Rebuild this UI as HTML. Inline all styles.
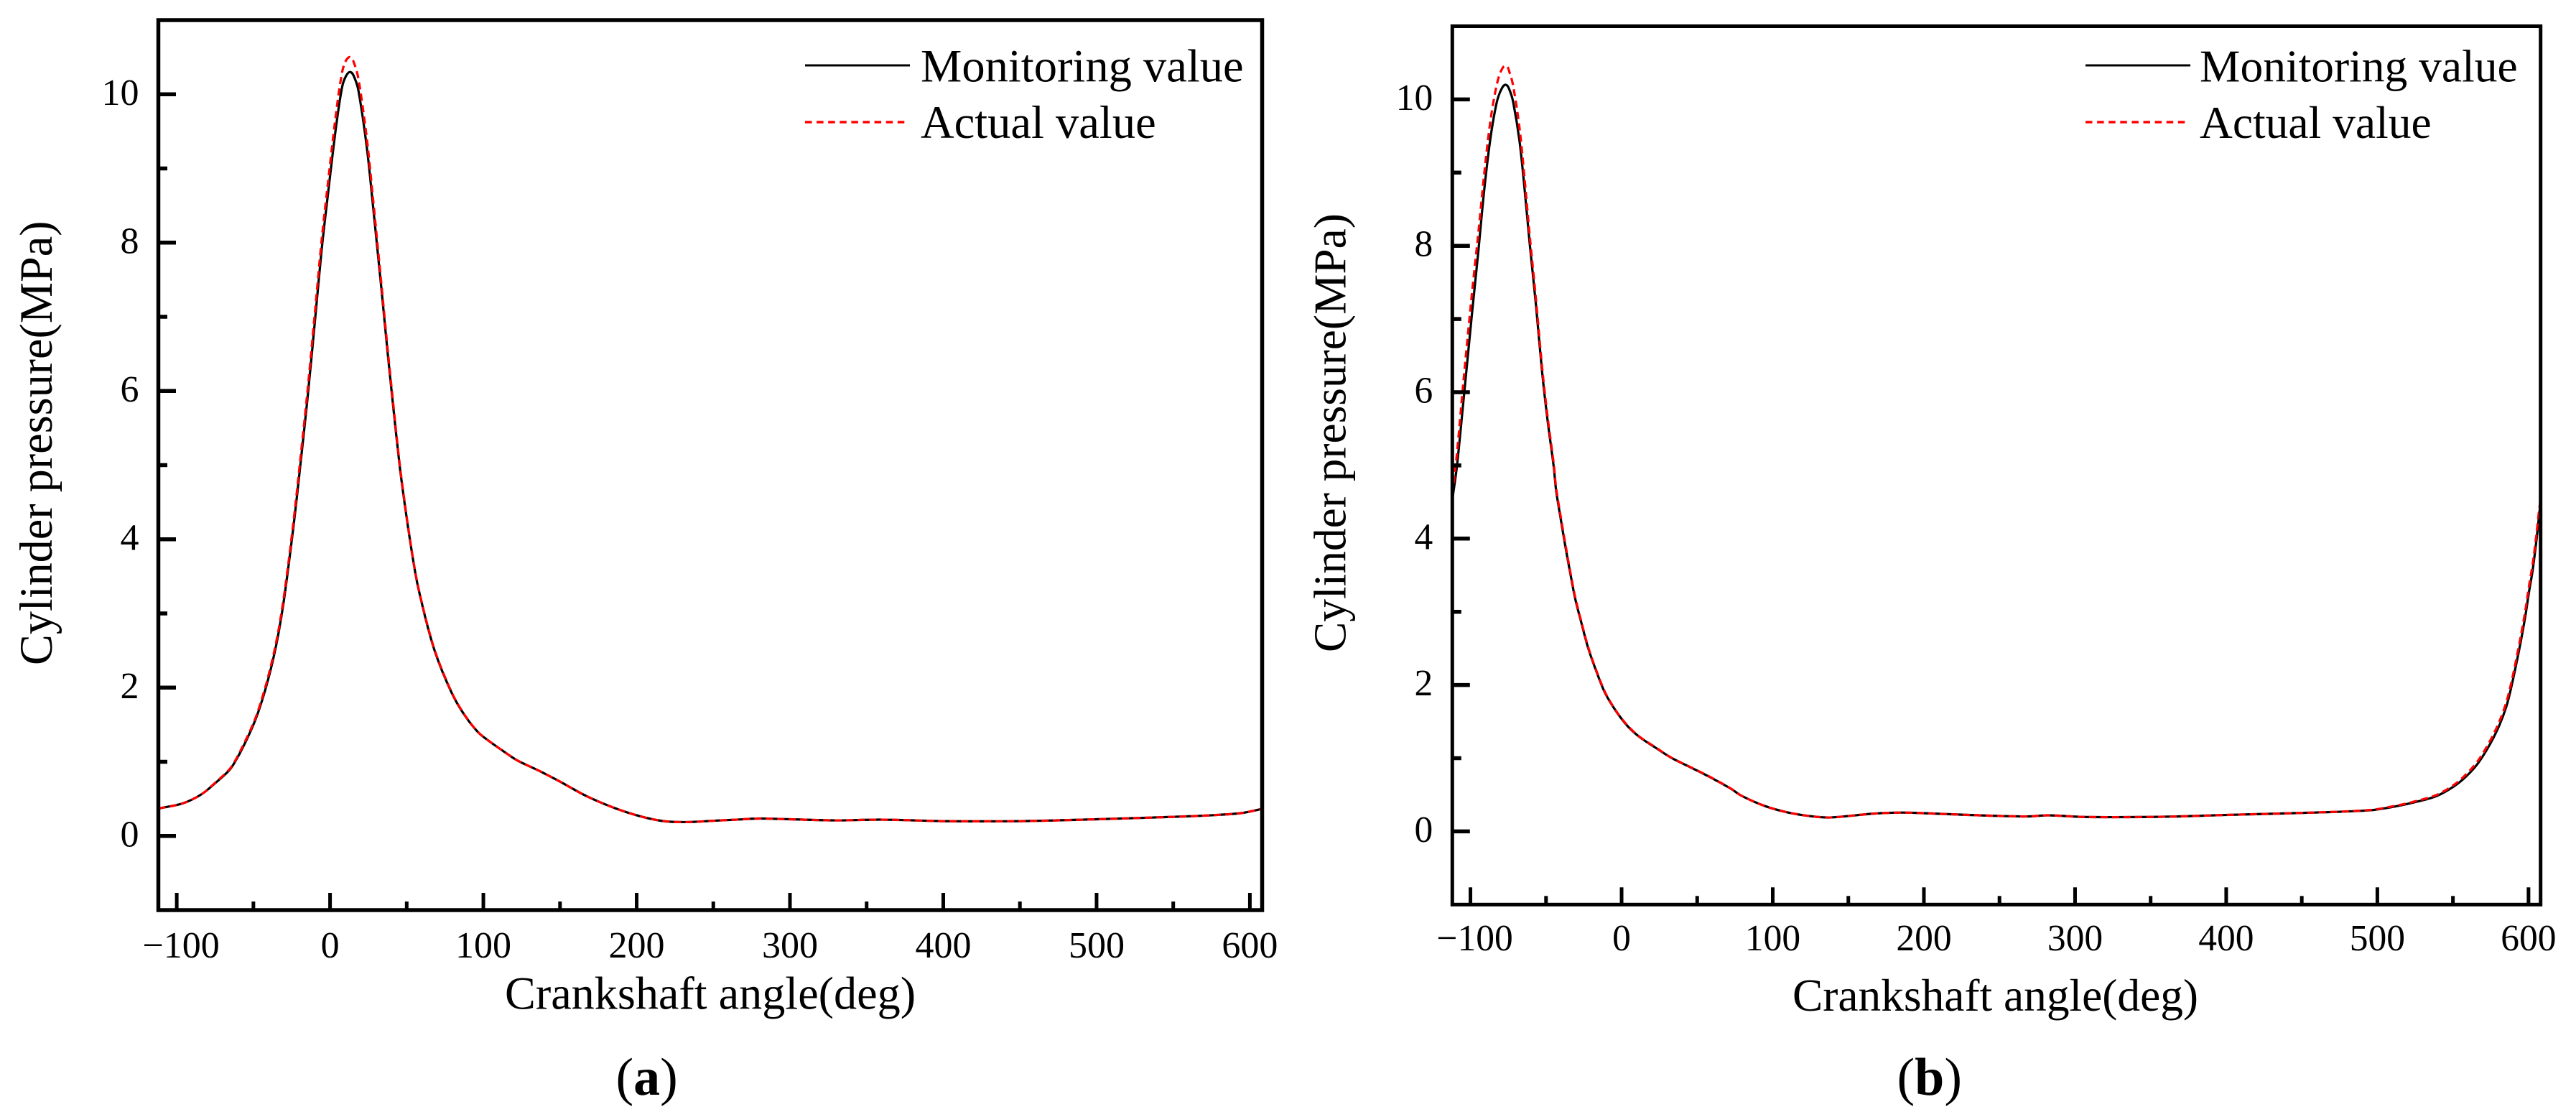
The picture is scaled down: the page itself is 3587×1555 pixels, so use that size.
<!DOCTYPE html>
<html lang="en">
<head>
<meta charset="utf-8">
<title>Cylinder pressure charts</title>
<style>
html,body{margin:0;padding:0;background:#fff;}
svg{display:block;}
text{font-family:"Liberation Serif",serif;fill:#000;}
</style>
</head>
<body>
<svg id="chart" xmlns="http://www.w3.org/2000/svg" width="3587" height="1555" viewBox="0 0 3587 1555"></svg>
<script>
const xMajorTicks = [-100, 0, 100, 200, 300, 400, 500, 600];
const xMinorTicks = [-50, 50, 150, 250, 350, 450, 550];
const xTickLabels = ["\u2212100", "0", "100", "200", "300", "400", "500", "600"];
const yMajorTicks = [0, 2, 4, 6, 8, 10];
const yMinorTicks = [1, 3, 5, 7, 9];
const yTickLabels = ["0", "2", "4", "6", "8", "10"];
const xDomain = [-112, 608];
const yDomain = [-1, 11];

const anglesA = [-112,-96,-84,-74.8,-66,-62.3,-56,-49,-44.3,-40.4,-36.5,-33.4,-30.3,-27.1,-24,-21.7,-19.8,-14.9,-9.6,-5.5,-1.5,3.9,7.9,10.5,13.3,16,18.6,24,28,30.7,33.4,37.4,41.4,45.5,48.6,52.5,56.4,60.3,64.2,68.1,73.6,81.4,89.2,97,104.8,112.6,122,135.2,149,167,184.8,202.7,217.6,232.6,250,265,280,300,330,360,400,450,500,560,580,595,608];
const monitoringA = [0.37,0.44,0.56,0.714,0.88,0.988,1.23,1.55,1.83,2.11,2.44,2.76,3.15,3.64,4.15,4.56,4.92,5.86,7.0,7.9,8.63,9.56,10.1,10.25,10.3,10.22,10.04,9.28,8.5,7.95,7.4,6.55,5.75,4.975,4.49,3.94,3.458,3.1,2.78,2.506,2.2,1.845,1.586,1.39,1.263,1.15,1.02,0.89,0.744,0.54,0.383,0.263,0.2,0.187,0.205,0.22,0.235,0.225,0.21,0.22,0.2,0.2,0.225,0.265,0.285,0.31,0.365];
const actualA = [0.37,0.44,0.56,0.72,0.89,1.0,1.25,1.57,1.86,2.145,2.48,2.8,3.2,3.69,4.21,4.63,5.0,5.96,7.12,8.03,8.78,9.74,10.3,10.46,10.5,10.4,10.2,9.4,8.6,8.03,7.46,6.6,5.79,5.0,4.51,3.95,3.468,3.11,2.79,2.515,2.21,1.85,1.59,1.39,1.263,1.15,1.02,0.89,0.744,0.54,0.383,0.263,0.2,0.187,0.205,0.22,0.235,0.225,0.21,0.22,0.2,0.2,0.225,0.265,0.285,0.31,0.365];

const anglesB = [-112,-109,-104.4,-99,-94.9,-90.8,-86.7,-82.6,-79.5,-76.6,-74,-71.7,-67.6,-64.3,-60.8,-56.7,-52.6,-49,-44.9,-43.3,-40.2,-37,-33.8,-30.7,-26.7,-22,-16.4,-10.9,-3.8,4.2,12.1,21.6,32.7,45.4,58,72.3,79.4,94.6,109.7,124.9,137,149,167,185.4,206.8,228,255,270,282,305,335,367.7,399,451,495,510.9,526.8,539.4,550.6,558.5,566.4,574.4,580.7,585.4,588.6,591.7,594.9,598,600.4,602.8,605.2,606.4,608];
const monitoringB = [4.53,4.98,5.93,7.07,7.9,8.78,9.48,9.96,10.14,10.2,10.12,9.96,9.44,8.8,8.03,7.2,6.28,5.62,4.98,4.655,4.26,3.87,3.51,3.18,2.856,2.497,2.17,1.89,1.646,1.433,1.286,1.155,1.008,0.877,0.746,0.583,0.486,0.348,0.26,0.208,0.19,0.208,0.243,0.257,0.243,0.226,0.208,0.205,0.22,0.198,0.195,0.204,0.224,0.253,0.288,0.337,0.409,0.485,0.615,0.746,0.926,1.187,1.449,1.71,1.97,2.267,2.595,2.954,3.28,3.576,3.97,4.2,4.5];
const actualB = [4.6,5.15,6.2,7.35,8.15,9.0,9.72,10.2,10.4,10.46,10.36,10.18,9.62,8.94,8.14,7.28,6.34,5.67,5.02,4.69,4.29,3.9,3.53,3.2,2.87,2.51,2.18,1.9,1.65,1.44,1.29,1.16,1.01,0.88,0.75,0.585,0.486,0.348,0.26,0.208,0.19,0.208,0.243,0.257,0.243,0.226,0.208,0.205,0.22,0.198,0.195,0.204,0.224,0.253,0.292,0.345,0.42,0.5,0.635,0.775,0.96,1.23,1.5,1.77,2.03,2.33,2.67,3.03,3.36,3.66,4.05,4.28,4.55];

const NS = "http://www.w3.org/2000/svg";
const root = document.getElementById("chart");

function make(tag, parent) {
  const el = document.createElementNS(NS, tag);
  parent.appendChild(el);
  return el;
}

function smoothPath(xs, ys, sx, sy) {
  const pts = xs.map(function (x, i) { return [sx(x), sy(ys[i])]; });
  const tangent = function (i) {
    const a = pts[Math.max(i - 1, 0)];
    const b = pts[Math.min(i + 1, pts.length - 1)];
    const dx = b[0] - a[0];
    const dy = b[1] - a[1];
    const len = Math.hypot(dx, dy) || 1;
    return [dx / len, dy / len];
  };
  let d = "M" + pts[0][0].toFixed(2) + " " + pts[0][1].toFixed(2);
  for (let i = 0; i < pts.length - 1; i++) {
    const p1 = pts[i];
    const p2 = pts[i + 1];
    const h = Math.hypot(p2[0] - p1[0], p2[1] - p1[1]) * 0.33;
    const t1 = tangent(i);
    const t2 = tangent(i + 1);
    d += "C" + (p1[0] + t1[0] * h).toFixed(2) + " " + (p1[1] + t1[1] * h).toFixed(2) + " " + (p2[0] - t2[0] * h).toFixed(2) + " " + (p2[1] - t2[1] * h).toFixed(2) + " " + p2[0].toFixed(2) + " " + p2[1].toFixed(2);
  }
  return d;
}

function drawPanel(cfg) {
  const g = make("g", root);
  
  

  const sx = function (v) { return cfg.left + (v - xDomain[0]) / (xDomain[1] - xDomain[0]) * (cfg.right - cfg.left); };
  const sy = function (v) { return cfg.bottom - (v - yDomain[0]) / (yDomain[1] - yDomain[0]) * (cfg.bottom - cfg.top); };

  const black = make("path", g);
  
  
  black.setAttribute("d", smoothPath(cfg.angles, cfg.monitoring, sx, sy));
  black.setAttribute("fill", "none");
  black.setAttribute("stroke", "#000");
  black.setAttribute("stroke-width", "3.2");

  const red = make("path", g);
  
  
  red.setAttribute("d", smoothPath(cfg.angles, cfg.actual, sx, sy));
  red.setAttribute("fill", "none");
  red.setAttribute("stroke", "#ff0000");
  red.setAttribute("stroke-width", "3.2");
  red.setAttribute("stroke-dasharray", "10 6");

  const frame = make("rect", g);
  
  
  frame.setAttribute("x", cfg.left);
  frame.setAttribute("y", cfg.top);
  frame.setAttribute("width", cfg.right - cfg.left);
  frame.setAttribute("height", cfg.bottom - cfg.top);
  frame.setAttribute("fill", "none");
  frame.setAttribute("stroke", "#000");
  frame.setAttribute("stroke-width", cfg.frameWidth);

  xMajorTicks.forEach(function (v, i) {
    const t = make("line", g);
    
    
    t.setAttribute("x1", sx(v));
    t.setAttribute("x2", sx(v));
    t.setAttribute("y1", cfg.bottom);
    t.setAttribute("y2", cfg.bottom - 24);
    t.setAttribute("stroke", "#000");
    t.setAttribute("stroke-width", "5");
    const label = make("text", g);
    
    
    label.setAttribute("x", sx(v) + (v < 0 ? 6 : 0));
    label.setAttribute("y", cfg.xLabelY);
    label.setAttribute("text-anchor", "middle");
    label.setAttribute("font-size", cfg.tickFont);
    label.textContent = xTickLabels[i];
  });
  xMinorTicks.forEach(function (v) {
    const t = make("line", g);
    
    
    t.setAttribute("x1", sx(v));
    t.setAttribute("x2", sx(v));
    t.setAttribute("y1", cfg.bottom);
    t.setAttribute("y2", cfg.bottom - 12);
    t.setAttribute("stroke", "#000");
    t.setAttribute("stroke-width", "5");
  });
  yMajorTicks.forEach(function (v, i) {
    const t = make("line", g);
    
    
    t.setAttribute("x1", cfg.left);
    t.setAttribute("x2", cfg.left + 24.5);
    t.setAttribute("y1", sy(v));
    t.setAttribute("y2", sy(v));
    t.setAttribute("stroke", "#000");
    t.setAttribute("stroke-width", "5.5");
    const label = make("text", g);
    
    
    label.setAttribute("x", cfg.left - 27);
    label.setAttribute("y", sy(v) + 14.5);
    label.setAttribute("text-anchor", "end");
    label.setAttribute("font-size", cfg.tickFont);
    label.textContent = yTickLabels[i];
  });
  yMinorTicks.forEach(function (v) {
    const t = make("line", g);
    
    
    t.setAttribute("x1", cfg.left);
    t.setAttribute("x2", cfg.left + 12.5);
    t.setAttribute("y1", sy(v));
    t.setAttribute("y2", sy(v));
    t.setAttribute("stroke", "#000");
    t.setAttribute("stroke-width", "5.5");
  });

  const xTitle = make("text", g);
  
  
  xTitle.setAttribute("x", cfg.xTitleX);
  xTitle.setAttribute("y", cfg.xTitleY);
  xTitle.setAttribute("font-size", cfg.titleFont);
  xTitle.textContent = "Crankshaft angle(deg)";

  const yTitle = make("text", g);
  
  
  yTitle.setAttribute("x", cfg.yTitleX);
  yTitle.setAttribute("y", cfg.yTitleY);
  yTitle.setAttribute("font-size", cfg.titleFont);
  yTitle.setAttribute("transform", "rotate(-90 " + cfg.yTitleX + " " + cfg.yTitleY + ")");
  yTitle.textContent = "Cylinder pressure(MPa)";

  const swatchBlack = make("line", g);
  
  
  swatchBlack.setAttribute("x1", cfg.swatchX);
  swatchBlack.setAttribute("x2", cfg.swatchX + 146);
  swatchBlack.setAttribute("y1", 91);
  swatchBlack.setAttribute("y2", 91);
  swatchBlack.setAttribute("stroke", "#000");
  swatchBlack.setAttribute("stroke-width", "3");

  const swatchRed = make("line", g);
  
  
  swatchRed.setAttribute("x1", cfg.swatchX);
  swatchRed.setAttribute("x2", cfg.swatchX + 141);
  swatchRed.setAttribute("y1", 170);
  swatchRed.setAttribute("y2", 170);
  swatchRed.setAttribute("stroke", "#ff0000");
  swatchRed.setAttribute("stroke-width", "3.5");
  swatchRed.setAttribute("stroke-dasharray", "9.5 6.6");

  const legendOne = make("text", g);
  
  
  legendOne.setAttribute("x", cfg.legendX);
  legendOne.setAttribute("y", 113.5);
  legendOne.setAttribute("font-size", cfg.legendFont);
  legendOne.textContent = "Monitoring value";

  const legendTwo = make("text", g);
  
  
  legendTwo.setAttribute("x", cfg.legendX);
  legendTwo.setAttribute("y", 192);
  legendTwo.setAttribute("font-size", cfg.legendFont);
  legendTwo.textContent = "Actual value";

  const caption = make("text", g);
  
  
  caption.setAttribute("x", cfg.captionX);
  caption.setAttribute("y", 1524);
  caption.setAttribute("font-size", "74");
  caption.appendChild(document.createTextNode("("));
  const letter = make("tspan", caption);
  letter.setAttribute("font-weight", "bold");
  letter.textContent = cfg.letter;
  caption.appendChild(document.createTextNode(")"));
}

drawPanel({
  id: "panel-a", letter: "a",
  left: 220.5, right: 1757.5, top: 28, bottom: 1267, frameWidth: 5.5,
  angles: anglesA, monitoring: monitoringA, actual: actualA,
  tickFont: 52, titleFont: 64.2, legendFont: 64.5,
  xLabelY: 1333, xTitleX: 703, xTitleY: 1404.5,
  yTitleX: 72, yTitleY: 926,
  swatchX: 1121, legendX: 1282, captionX: 857.5
});

drawPanel({
  id: "panel-b", letter: "b",
  left: 2022.3, right: 3537.7, top: 36.5, bottom: 1259.3, frameWidth: 5,
  angles: anglesB, monitoring: monitoringB, actual: actualB,
  tickFont: 51.5, titleFont: 63.4, legendFont: 63.5,
  xLabelY: 1323, xTitleX: 2496, xTitleY: 1407,
  yTitleX: 1873.5, yTitleY: 908,
  swatchX: 2904, legendX: 3063, captionX: 2641.5
});
</script>
</body>
</html>
